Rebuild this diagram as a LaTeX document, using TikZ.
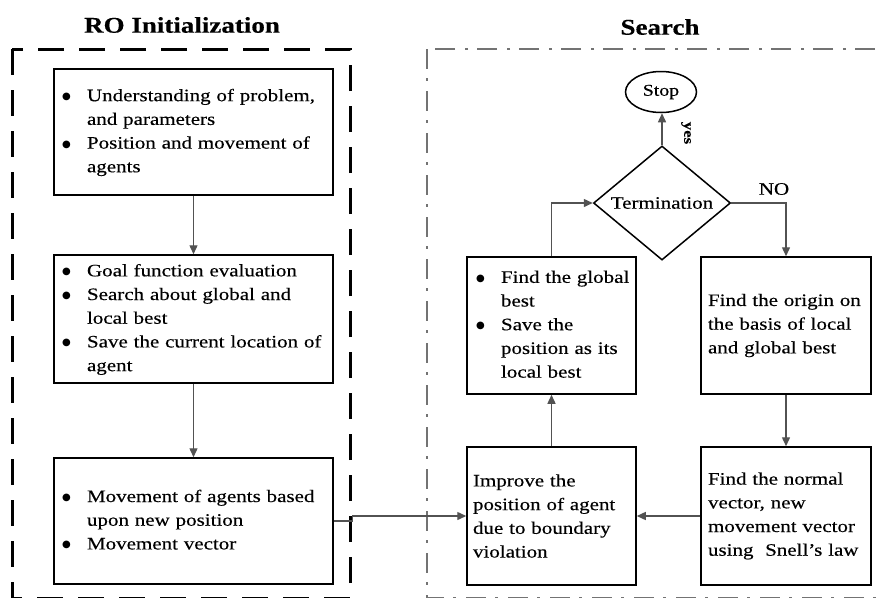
\documentclass[tikz,border=0pt]{standalone}
\usepackage{fontspec}
\setmainfont{Liberation Serif}[FakeStretch=1.2,FakeBold=0.3]
\newfontfamily\symfnt{DejaVu Sans}
\usetikzlibrary{shapes.geometric,arrows.meta}
\newcommand{\bodyfont}{\fontsize{17.5}{23.7}\selectfont}
\newcommand{\bitem}{\raisebox{1.5pt}{\symfnt\fontsize{10}{10}\selectfont ●}}
\begin{document}
\begin{tikzpicture}[x=1pt,y=-1pt,
  box/.style={draw, line width=1.5pt, inner xsep=8pt, inner ysep=0pt, align=left, font=\bodyfont},
  conn/.style={draw=black!68, line width=1.4pt, -{Triangle[length=9pt,width=8pt]}},
  ttl/.style={font=\fontsize{22.5}{26}\selectfont\bfseries},
  lbl/.style={font=\bodyfont}
]
\useasboundingbox (0,0) rectangle (883,597);
% frames
\draw[line width=3pt, dash pattern=on 26pt off 15pt] (12,49) rectangle (350,598);
\draw[black!55, line width=1.8pt, dash pattern=on 20pt off 9pt on 3pt off 10pt] (427,49) rectangle (900,598);
% titles
\node[ttl] (t1) at (182,25) {RO Initialization};
\node[ttl] (t2) at (660,27) {Search};
% left boxes
\node[box, minimum width=279pt, minimum height=126pt, text width=263pt] (b1) at (193.5,132)
 {\begin{tabular}{@{}p{25pt}@{}l@{}}\bitem & Understanding of problem,\\ & and parameters\\ \bitem & Position and movement of\\ & agents\end{tabular}};
\node[box, minimum width=279pt, minimum height=128pt, text width=263pt] (b2) at (193.5,319)
 {\begin{tabular}{@{}p{25pt}@{}l@{}}\bitem & Goal function evaluation\\ \bitem & Search about global and\\ & local best\\ \bitem & Save the current location of\\ & agent\end{tabular}};
\node[box, minimum width=279pt, minimum height=126pt, text width=263pt] (b3) at (193.5,521)
 {\begin{tabular}{@{}p{25pt}@{}l@{}}\bitem & Movement of agents based\\ & upon new position\\ \bitem & Movement vector\end{tabular}};
% right boxes
\node[box, inner xsep=9pt, minimum width=169pt, minimum height=137pt, text width=151pt] (gb) at (551.5,325.5)
 {\begin{tabular}{@{}p{25pt}@{}l@{}}\bitem & Find the global\\ & best\\ \bitem & Save the\\ & position as its\\ & local best\end{tabular}};
\node[box, inner xsep=7pt, minimum width=170pt, minimum height=137pt, text width=156pt] (og) at (786,325.5)
 {Find the origin on\\the basis of local\\and global best};
\node[box, inner xsep=6pt, minimum width=169pt, minimum height=138pt, text width=157pt] (im) at (551.5,516)
 {Improve the\\position of agent\\due to boundary\\violation};
\node[box, inner xsep=7pt, minimum width=170pt, minimum height=138pt, text width=156pt] (nv) at (786,516)
 {Find the normal\\vector, new\\movement vector\\using\ \ Snell’s law};
% decision and stop
\node[draw, line width=1.5pt, diamond, minimum width=137pt, minimum height=112pt, inner sep=0pt, font=\bodyfont] (tm) at (662,203) {Termination};
\node[draw, line width=1.5pt, ellipse, minimum width=71pt, minimum height=41pt, inner sep=0pt, font=\fontsize{16.5}{20}\selectfont] (st) at (661,92) {Stop};
% connectors
\draw[conn] (b1) -- (b2);
\draw[conn] (b2) -- (b3);
\draw[conn] (b3.east) -- ++(19,0) |- (im.west);
\draw[conn] (im) -- (gb);
\draw[conn] (gb.north) |- (tm.west);
\draw[conn] (tm.north) -- (tm.north |- st.south);
\draw[conn] (tm.east) -| (og.north);
\draw[conn] (og) -- (nv);
\draw[conn] (nv) -- (im);
% labels
\node[font=\fontsize{14}{16}\selectfont\bfseries, rotate=-90] (yes) at (686,133) {yes};
\node[lbl] (no) at (774,189) {NO};
\end{tikzpicture}
\end{document}
